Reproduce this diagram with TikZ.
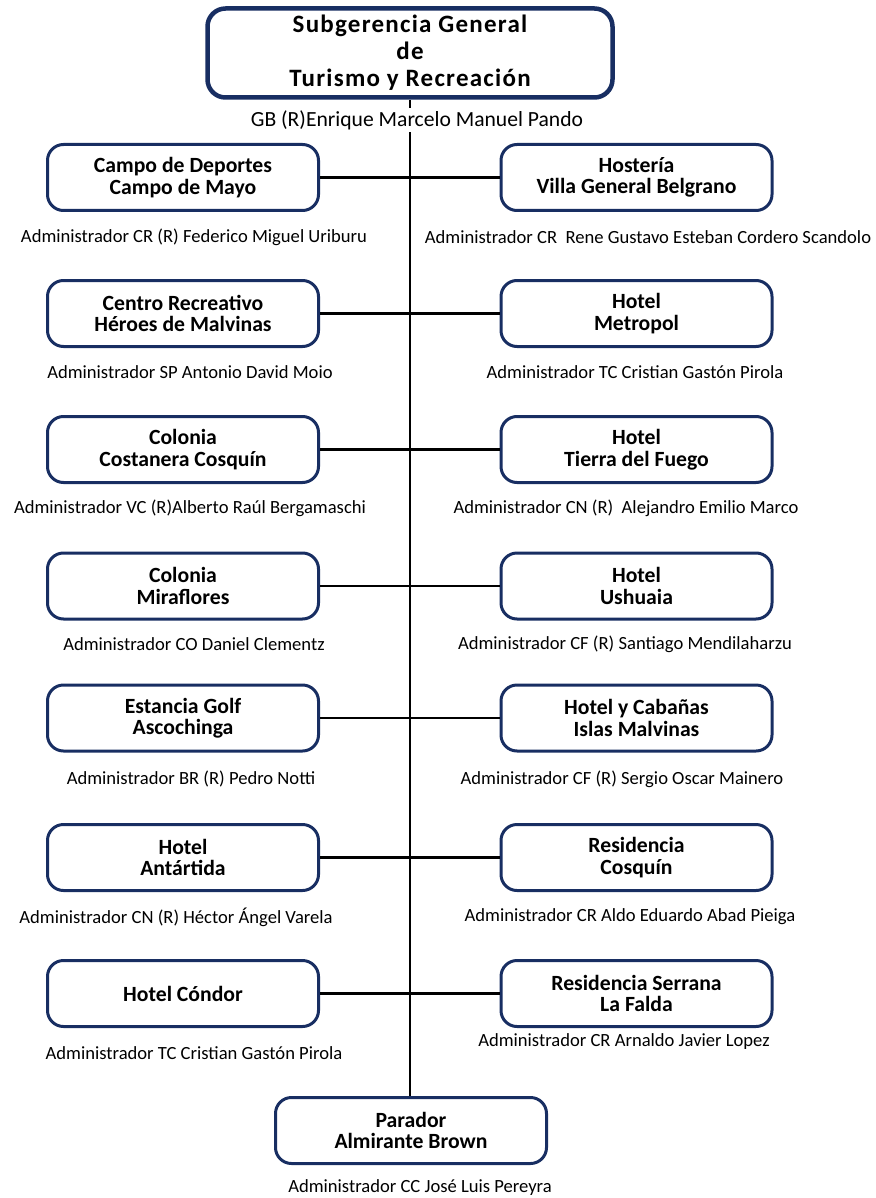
\documentclass[tikz,border=0pt]{standalone}
\usepackage{fontspec}
\setmainfont{Carlito}
\definecolor{navy}{RGB}{24,46,98}
\begin{document}
\begin{tikzpicture}[x=1pt,y=-1pt,
  unit/.style={draw=navy, line width=3pt, rounded corners=16pt, minimum width=271pt, minimum height=66pt,
    align=center, inner sep=0pt, fill=white, font=\fontsize{21.7}{21.5}\selectfont\bfseries},
  head/.style={draw=navy, line width=4.5pt, rounded corners=18pt, minimum width=405pt, minimum height=89pt,
    align=center, inner sep=0pt, fill=white, font=\fontsize{25}{27}\selectfont\bfseries\addfontfeature{LetterSpace=5}},
  admin/.style={font=\fontsize{18.6}{20}\selectfont, inner sep=0pt},
  link/.style={line width=2.5pt, black}]
\useasboundingbox (0,0) rectangle (875,1198);

\node[head] (top) at (410,53) {Subgerencia General\\de\\Turismo y Recreación};

\node[unit] (L1) at (183,177.5) {Campo de Deportes\\Campo de Mayo};
\node[unit] (R1) at (636.5,177.5) {Hostería\\Villa General Belgrano};
\node[unit] (L2) at (183,313.5) {Centro Recreativo\\Héroes de Malvinas};
\node[unit] (R2) at (636.5,313.5) {Hotel\\Metropol};
\node[unit] (L3) at (183,449.5) {Colonia\\Costanera Cosquín};
\node[unit] (R3) at (636.5,449.5) {Hotel\\Tierra del Fuego};
\node[unit] (L4) at (183,586) {Colonia\\Miraflores};
\node[unit] (R4) at (636.5,586) {Hotel\\Ushuaia};
\node[unit] (L5) at (183,718) {Estancia Golf\\Ascochinga};
\node[unit] (R5) at (636.5,718) {Hotel y Cabañas\\Islas Malvinas};
\node[unit] (L6) at (183,857.5) {Hotel\\Antártida};
\node[unit] (R6) at (636.5,857.5) {Residencia\\Cosquín};
\node[unit] (L7) at (183,993.5) {Hotel Cóndor};
\node[unit] (R7) at (636.5,993.5) {Residencia Serrana\\La Falda};
\node[unit] (P) at (411,1130.5) {Parador\\Almirante Brown};

\draw[link] (top.south) -- (top.south |- P.north);
\foreach \i in {1,...,7} \draw[link] (L\i.east) -- (R\i.west);

\node[admin, fill=white, inner sep=2pt, font=\fontsize{21.6}{24}\selectfont] (gb) at (417,120) {GB (R)Enrique Marcelo Manuel Pando};

\node[admin] (a1) at (194,237) {Administrador CR (R) Federico Miguel Uriburu};
\node[admin] (b1) at (648,237) {Administrador CR\ \ Rene Gustavo Esteban Cordero Scandolo};
\node[admin] (a2) at (190,372) {Administrador SP Antonio David Moio};
\node[admin] (b2) at (635,372) {Administrador TC Cristian Gastón Pirola};
\node[admin] (a3) at (190,508) {Administrador VC (R)Alberto Raúl Bergamaschi};
\node[admin] (b3) at (626,508) {Administrador CN (R)\ \ Alejandro Emilio Marco};
\node[admin] (a4) at (194,644) {Administrador CO Daniel Clementz};
\node[admin] (b4) at (625,644) {Administrador CF (R) Santiago Mendilaharzu};
\node[admin] (a5) at (191,779) {Administrador BR (R) Pedro Notti};
\node[admin] (b5) at (622,779) {Administrador CF (R) Sergio Oscar Mainero};
\node[admin] (a6) at (176,917) {Administrador CN (R) Héctor Ángel Varela};
\node[admin] (b6) at (630,917) {Administrador CR Aldo Eduardo Abad Pieiga};
\node[admin] (a7) at (194,1053) {Administrador TC Cristian Gastón Pirola};
\node[admin] (b7) at (624,1042) {Administrador CR Arnaldo Javier Lopez};
\node[admin] (pa) at (420,1188) {Administrador CC José Luis Pereyra};
\end{tikzpicture}
\end{document}
